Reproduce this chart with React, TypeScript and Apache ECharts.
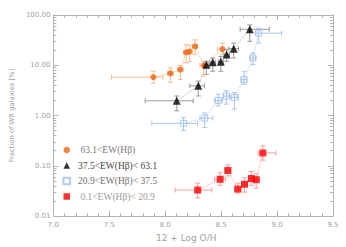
import React, { useEffect, useRef } from 'react';
import * as echarts from 'echarts';

// Each row: [12+log O/H, fraction %, xLow, xHigh, yLow, yHigh]
const strongEW = [
  [7.894, 5.8, 7.52, 7.98, 4.4, 7.6],
  [8.046, 6.9, 8.02, 8.07, 4.6, 8.9],
  [8.135, 8.2, 8.11, 8.16, 5.2, 9.9],
  [8.187, 18.0, 8.165, 8.21, 11.2, 25.6],
  [8.218, 18.7, 8.195, 8.24, 11.8, 25.0],
  [8.267, 23.7, 8.245, 8.29, 16.3, 32.0],
  [8.345, 9.9, 8.31, 8.40, 6.1, 12.0],
  [8.511, 21.0, 8.466, 8.61, 16.3, 27.6],
];
const upperMidEW = [
  [8.103, 1.96, 7.82, 8.25, 1.24, 2.45],
  [8.296, 3.9, 8.22, 8.35, 2.45, 4.85],
  [8.368, 10.3, 8.345, 8.39, 6.6, 12.0],
  [8.425, 11.5, 8.40, 8.45, 7.6, 14.0],
  [8.497, 11.7, 8.475, 8.52, 7.6, 15.0],
  [8.549, 16.3, 8.525, 8.575, 12.0, 20.4],
  [8.612, 21.4, 8.569, 8.655, 14.0, 27.6],
  [8.756, 52.0, 8.67, 8.93, 30.0, 63.5],
];
const lowerMidEW = [
  [8.164, 0.70, 7.88, 8.29, 0.50, 0.92],
  [8.353, 0.89, 8.31, 8.425, 0.58, 1.12],
  [8.474, 2.0, 8.44, 8.51, 1.56, 2.65],
  [8.546, 2.45, 8.52, 8.575, 1.69, 3.1],
  [8.618, 2.29, 8.578, 8.655, 1.34, 2.87],
  [8.704, 5.2, 8.68, 8.73, 4.2, 7.6],
  [8.784, 14.0, 8.76, 8.81, 10.3, 17.6],
  [8.836, 43.5, 8.81, 9.04, 27.6, 54.7],
];
const weakEW = [
  [8.290, 0.033, 8.089, 8.417, 0.023, 0.045],
  [8.491, 0.054, 8.44, 8.54, 0.041, 0.074],
  [8.560, 0.081, 8.535, 8.585, 0.063, 0.105],
  [8.649, 0.0345, 8.62, 8.675, 0.029, 0.045],
  [8.709, 0.043, 8.685, 8.735, 0.030, 0.058],
  [8.770, 0.056, 8.745, 8.795, 0.041, 0.077],
  [8.813, 0.053, 8.79, 8.84, 0.036, 0.070],
  [8.873, 0.18, 8.83, 8.99, 0.13, 0.25],
];

const legendNames = [' 63.1<EW(Hβ)', '37.5<EW(Hβ)< 63.1', '20.9<EW(Hβ)< 37.5', ' 0.1<EW(Hβ)< 20.9'];
const legendTextColors = ['#7a7a7a', '#444444', '#707070', '#9a9a9a'];
const xMin = 7.0;
const xMax = 9.5;
const xStep = 0.5;
const yMin = 0.01;
const yMax = 100;
const decadeExponents = [-2, -1, 0, 1];
const minorMantissas = [2, 3, 4, 5, 6, 7, 8, 9];

const AXIS_COLOR = '#b4b4b4';
const LABEL_COLOR = '#a0a0a0';
const FONT = 'DejaVu Sans';

const minorLogTicks: number[] = [];
decadeExponents.forEach((e) => minorMantissas.forEach((m) => minorLogTicks.push(e + Math.log10(m))));

function errorBars(data: number[][], color: string) {
  return {
    type: 'custom',
    data,
    encode: { x: 0, y: 1 },
    z: 2,
    silent: true,
    renderItem: (_params: any, api: any) => {
      const x = api.value(0);
      const y = api.value(1);
      const pL = api.coord([api.value(2), y]);
      const pR = api.coord([api.value(3), y]);
      const pB = api.coord([x, api.value(4)]);
      const pT = api.coord([x, api.value(5)]);
      const c = 2.5;
      const style = { stroke: color, lineWidth: 1, fill: null };
      const ln = (x1: number, y1: number, x2: number, y2: number) => ({
        type: 'line',
        shape: { x1, y1, x2, y2 },
        style,
      });
      return {
        type: 'group',
        children: [
          ln(pL[0], pL[1], pR[0], pR[1]),
          ln(pL[0], pL[1] - c, pL[0], pL[1] + c),
          ln(pR[0], pR[1] - c, pR[0], pR[1] + c),
          ln(pB[0], pB[1], pT[0], pT[1]),
          ln(pB[0] - c, pB[1], pB[0] + c, pB[1]),
          ln(pT[0] - c, pT[1], pT[0] + c, pT[1]),
        ],
      };
    },
  };
}

function connector(data: number[][], color: string) {
  return {
    type: 'line',
    data: data.map((d) => [d[0], d[1]]),
    symbol: 'none',
    silent: true,
    z: 1,
    lineStyle: { color, width: 1, type: 'dotted' },
  };
}

function markers(name: string, data: number[][], symbol: string, size: number, itemStyle: any) {
  return {
    type: 'scatter',
    name,
    data: data.map((d) => [d[0], d[1]]),
    symbol,
    symbolSize: size,
    itemStyle,
    z: 3,
  };
}

export default function App() {
  const ref = useRef<HTMLDivElement>(null);
  useEffect(() => {
    if (!ref.current) return;
    const chart = echarts.init(ref.current, null, { renderer: 'svg' });
    const tickBase = {
      inside: true,
      length: 5,
      lineStyle: { color: AXIS_COLOR, width: 1 },
    };
    const xCommon = {
      type: 'value',
      min: xMin,
      max: xMax,
      interval: xStep,
      splitLine: { show: false },
      axisLine: { show: true, onZero: false, lineStyle: { color: AXIS_COLOR, width: 1 } },
      axisTick: tickBase,
      minorTick: { show: true, splitNumber: 5, length: 3, lineStyle: { color: AXIS_COLOR, width: 1 } },
    };
    const yLogCommon = {
      type: 'log',
      logBase: 10,
      min: yMin,
      max: yMax,
      splitLine: { show: false },
      axisLine: { show: true, onZero: false, lineStyle: { color: AXIS_COLOR, width: 1 } },
      axisTick: tickBase,
    };
    const yMinorCommon = {
      type: 'value',
      min: Math.log10(yMin),
      max: Math.log10(yMax),
      splitLine: { show: false },
      axisLine: { show: false },
      axisLabel: { show: false },
      axisTick: {
        show: true,
        inside: true,
        length: 3,
        customValues: minorLogTicks,
        lineStyle: { color: AXIS_COLOR, width: 1 },
      },
    };
    chart.setOption({
      animation: false,
      backgroundColor: '#ffffff',
      grid: { left: 43, right: 13, top: 15, bottom: 29, containLabel: false },
      legend: {
        data: legendNames.map((n, i) => ({ name: n, textStyle: { color: legendTextColors[i] } })),
        orient: 'vertical',
        left: 57.5,
        top: 140,
        itemWidth: 6.5,
        itemHeight: 6.5,
        itemGap: 5.5,
        selectedMode: false,
        textStyle: { fontFamily: 'Liberation Serif', fontSize: 9.5, lineHeight: 9, padding: [0, 0, 0, 3] },
      },
      xAxis: [
        {
          ...xCommon,
          position: 'bottom',
          name: '12 + Log O/H',
          nameLocation: 'middle',
          nameGap: 14,
          nameTextStyle: { color: LABEL_COLOR, fontFamily: FONT, fontSize: 9, padding: [0, 14, 0, 0] },
          axisLabel: {
            color: LABEL_COLOR,
            fontFamily: FONT,
            fontSize: 7,
            margin: 5,
            formatter: (v: number) => v.toFixed(1),
          },
        },
        { ...xCommon, position: 'top', axisLabel: { show: false } },
      ],
      yAxis: [
        {
          ...yLogCommon,
          position: 'left',
          name: 'Fraction of WR galaxies [%]',
          nameLocation: 'middle',
          nameRotate: 90,
          nameGap: 30,
          nameTextStyle: { color: LABEL_COLOR, fontFamily: FONT, fontSize: 6.8 },
          axisLabel: {
            color: LABEL_COLOR,
            fontFamily: FONT,
            fontSize: 7,
            margin: 3,
            formatter: (v: number) => v.toFixed(2),
          },
        },
        { ...yLogCommon, position: 'right', axisLabel: { show: false } },
        { ...yMinorCommon, position: 'left' },
        { ...yMinorCommon, position: 'right' },
      ],
      series: [
        connector(strongEW, '#f7b48a'),
        connector(upperMidEW, '#b0b0b0'),
        connector(lowerMidEW, '#b4cff2'),
        connector(weakEW, '#ffa0a0'),
        errorBars(strongEW, '#f8bd96'),
        errorBars(upperMidEW, '#9a9a9a'),
        errorBars(lowerMidEW, '#a9c6ef'),
        errorBars(weakEW, '#ff9c9c'),
        markers(legendNames[0], strongEW, 'circle', 6, { color: '#ef640c' }),
        markers(legendNames[1], upperMidEW, 'triangle', 8, { color: '#000000' }),
        markers(legendNames[2], lowerMidEW, 'rect', 6, {
          color: 'rgba(255,255,255,0)',
          borderColor: '#9cbeed',
          borderWidth: 1,
        }),
        markers(legendNames[3], weakEW, 'rect', 7, { color: '#ff0000' }),
      ],
    });
    return () => chart.dispose();
  }, []);
  return (
    <div
      ref={ref}
      style={{ position: 'fixed', left: 0, top: 0, width: 346, height: 247, background: '#fff' }}
    />
  );
}
